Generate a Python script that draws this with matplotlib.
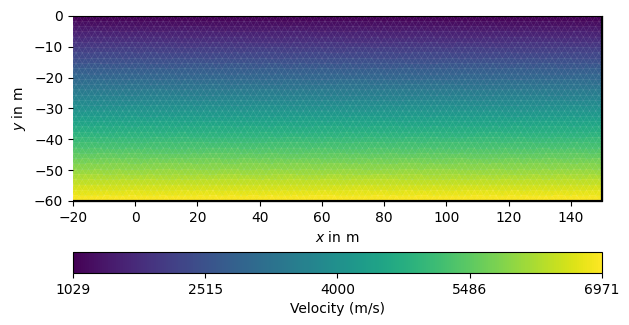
import numpy as np
import matplotlib.pyplot as plt
import matplotlib.tri as mtri

# velocity profile (depth in m, velocity in m/s)
depth_profile = [0.0, -60.0]
vel_profile = [1000.0, 7000.0]
cbar_ticks = [1029, 2515, 4000, 5486, 6971]

x_min, x_max = -20.0, 150.0
y_min, y_max = -60.0, 0.0

# build an offset-row triangle mesh over the model box
dx = 2.0
n_rows = int(round((y_max - y_min) / (dx * np.sqrt(3) / 2)))
ys = np.linspace(y_max, y_min, n_rows + 1)
px, py = [], []
for i, yy in enumerate(ys):
    if i % 2 == 0:
        xs = np.arange(x_min, x_max + 1e-6, dx)
        if xs[-1] < x_max - 1e-6:
            xs = np.append(xs, x_max)
    else:
        xs = np.arange(x_min + dx / 2, x_max, dx)
        xs = np.concatenate([[x_min], xs, [x_max]])
    px.extend(xs)
    py.extend([yy] * len(xs))
px = np.array(px)
py = np.array(py)
tri = mtri.Triangulation(px, py)

# cell velocity from centroid depth
cy = py[tri.triangles].mean(axis=1)
vel = np.interp(-cy, [-d for d in depth_profile], vel_profile)

fig = plt.figure(figsize=(6.29, 3.25), dpi=100)
ax = fig.add_axes([0.116, 0.382, 0.841, 0.569])
tpc = ax.tripcolor(tri, facecolors=vel, cmap="viridis",
                   vmin=cbar_ticks[0], vmax=cbar_ticks[-1])
ax.triplot(tri, color=(1, 1, 1, 0.16), lw=0.3)
# model boundary: thick on right and bottom
ax.plot([x_max, x_max, x_min], [y_max, y_min, y_min],
        color="black", lw=1.6, clip_on=False, solid_capstyle="butt")
ax.spines["left"].set_visible(False)
ax.set_xlim(x_min, x_max)
ax.set_ylim(y_min, y_max)
ax.set_xlabel("$x$ in m")
ax.set_ylabel("$y$ in m")

cax = fig.add_axes([0.116, 0.16, 0.841, 0.065])
cb = fig.colorbar(tpc, cax=cax, orientation="horizontal")
cb.set_ticks(cbar_ticks)
cb.set_ticklabels([str(t) for t in cbar_ticks])
cb.set_label("Velocity (m/s)")

fig.savefig("out.png", dpi=100)
